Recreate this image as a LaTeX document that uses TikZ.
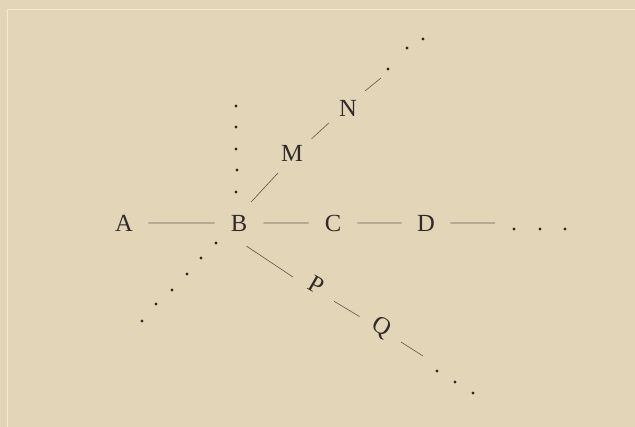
\documentclass[tikz,border=0pt]{standalone}
\usepackage{fontspec}
\setmainfont{Liberation Serif}
\usepackage{tikz}
\usetikzlibrary{positioning}
\definecolor{paper}{RGB}{227,213,184}
\definecolor{ink}{RGB}{48,43,38}
\definecolor{rule}{RGB}{100,92,82}
\definecolor{crease}{RGB}{242,234,214}

\begin{document}
\begin{tikzpicture}[scale=0.3, inner sep=0pt, line width=0.55pt,
        letter/.style={circle, minimum size=14.4mm, text=ink, font=\fontsize{21}{25}\selectfont}]
        % paper
            \fill[paper] (0,0) rectangle (63.5,-42.7);
            \useasboundingbox (0,0) rectangle (63.5,-42.7);
            \draw[crease] (0.7,-42.7) -- (0.7,-0.9) -- (63.5,-0.9);

        % the letters
            \draw (12.4,-22.3) node(a) [letter] {A}
                  (23.9,-22.3) node(b) [letter] {B}
                  (33.3,-22.3) node(c) [letter] {C}
                  (42.6,-22.3) node(d) [letter] {D}
                  (29.2,-15.3) node(m) [letter] {M}
                  (34.8,-10.8) node(n) [letter] {N}
                  (31.6,-28.5) node(p) [letter, rotate=-30] {P}
                  (38.1,-32.8) node(q) [letter, rotate=-30] {Q};
            \coordinate (dend) at (49.5,-22.3);
            \coordinate (nend) at (38.1,-7.8);
            \coordinate (qend) at (42.3,-35.6);

        % the lines
            \draw[rule] (a) to (b) to (c) to (d) to (dend);
            \draw[rule] (b.60) to (m.235);
            \draw[rule] (m.36) to (n.218);
            \draw[rule] (n.45) to (nend);
            \draw[rule] (b.288) to (p.191);
            \draw[rule] (p.348) to (q.182);
            \draw[rule] (q.355) to (qend);

        % the dots
            \foreach \x/\y in {51.4/22.9, 54.0/22.9, 56.5/22.9,
                               23.6/10.6, 23.6/12.7, 23.6/14.9, 23.7/17.0, 23.6/19.2,
                               21.6/24.3, 20.1/25.8, 18.7/27.4, 17.2/29.0, 15.6/30.4, 14.2/32.1,
                               38.8/6.9, 40.7/4.8, 42.3/3.9,
                               43.7/37.1, 45.5/38.2, 47.3/39.3}
                \fill[ink] (\x,-\y) circle (0.17);
        \end{tikzpicture}
\end{document}
